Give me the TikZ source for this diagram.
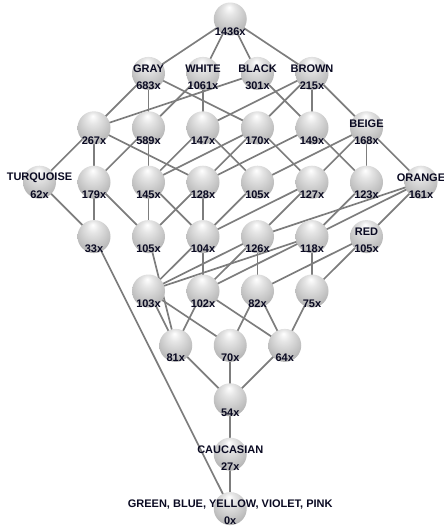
\documentclass[tikz,border=0pt]{standalone}
\usepackage{fontspec}
\setmainfont{Liberation Sans}
\usetikzlibrary{calc}
\definecolor{lbl}{RGB}{10,10,34}
\definecolor{wire}{RGB}{125,125,125}
% grey sphere: highlight near the top, darker rim
\pgfdeclareradialshading{sphere}{\pgfpoint{-2bp}{18bp}}{%
  color(0bp)=(white);
  color(9bp)=(white!90!black);
  color(24bp)=(white!77!black);
  color(40bp)=(white!62!black);
  color(50bp)=(white!50!black)}
\pgfdeclarelayer{bg}
\pgfsetlayers{bg,main}
\begin{document}
\begin{tikzpicture}[x=1pt,y=-1pt,
  ball/.style={circle,minimum size=33pt,inner sep=0pt,shading=sphere},
  link/.style={draw=wire,line width=1.7pt},
  txt/.style={inner sep=0pt,text=lbl,font=\fontsize{11}{11}\selectfont\bfseries},
]
\useasboundingbox (0,0) rectangle (444,531);
% lattice concepts
\foreach \n/\x/\y in {
  top/230.25/19,
  gray/148.5/73.4, white/203/73.4, black/257.5/73.4, brown/312/73.4,
  n267/94/127.8, n589/148.5/127.8, n147/203/127.8, n170/257.5/127.8, n149/312/127.8, beige/366.5/127.8,
  turq/39.5/182.2, n179/94/182.2, n145/148.5/182.2, n128/203/182.2, n105a/257.5/182.2, n127/312/182.2, n123/366.5/182.2, orange/421/182.2,
  n33/94/236.6, n105b/148.5/236.6, n104/203/236.6, n126/257.5/236.6, n118/312/236.6, red/366.5/236.6,
  n103/148.5/291, n102/203/291, n82/257.5/291, n75/312/291,
  n81/175.75/345.4, n70/230.25/345.4, n64/284.75/345.4,
  n54/230.25/399.8, cauc/230.25/454.2, bot/230.25/508.6}
  \node[ball] (\n) at (\x,\y) {};
% connectors
\begin{pgfonlayer}{bg}
\foreach \a/\b in {
  top/gray, top/white, top/black, top/brown,
  gray/n267, gray/n589, gray/n170, white/n589, white/n147,
  black/n267, black/n149, brown/n147, brown/n170, brown/n149, brown/beige,
  n267/turq, n267/n179, n267/n128, n589/n179, n589/n145,
  n147/n145, n147/n105a, n170/n145, n170/n128, n170/n127,
  n149/n128, n149/n123, beige/n105a, beige/n127, beige/n123, beige/orange,
  turq/n33, n179/n33, n179/n105b, n145/n105b, n128/n105b,
  n145/n104, n128/n104, n105a/n104, n127/n104, n127/n126,
  orange/n126, n123/n118, orange/n118, orange/red,
  n105b/n81, n104/n103, n104/n102, n126/n103, n118/n103,
  n126/n102, n118/n102, n126/n82, red/n82, n118/n75, red/n75,
  n103/n81, n102/n81, n103/n70, n82/n70, n102/n64, n82/n64, n75/n64,
  n81/n54, n70/n54, n64/n54, n54/cauc, cauc/bot, n33/bot}
  \path[link] (\a.center) -- (\b.center);
\end{pgfonlayer}
% object counts
\foreach \n/\t in {
  top/1436x, gray/683x, white/1061x, black/301x, brown/215x,
  n267/267x, n589/589x, n147/147x, n170/170x, n149/149x, beige/168x,
  turq/62x, n179/179x, n145/145x, n128/128x, n105a/105x, n127/127x, n123/123x, orange/161x,
  n33/33x, n105b/105x, n104/104x, n126/126x, n118/118x, red/105x,
  n103/103x, n102/102x, n82/82x, n75/75x,
  n81/81x, n70/70x, n64/64x, n54/54x, cauc/27x, bot/0x}
  \node[txt] (\n-c) at ($(\n.center)+(0,12.5)$) {\t};
% attribute names
\foreach \n/\t in {
  gray/GRAY, white/WHITE, black/BLACK, brown/BROWN, beige/BEIGE,
  turq/TURQUOISE, orange/ORANGE, red/RED, cauc/CAUCASIAN}
  \node[txt] (\n-a) at ($(\n.center)+(0,-4.5)$) {\t};
\node[txt] (bot-a) at ($(bot.center)+(0,-4.5)$) {GREEN, BLUE, YELLOW, VIOLET, PINK};
\end{tikzpicture}
\end{document}
